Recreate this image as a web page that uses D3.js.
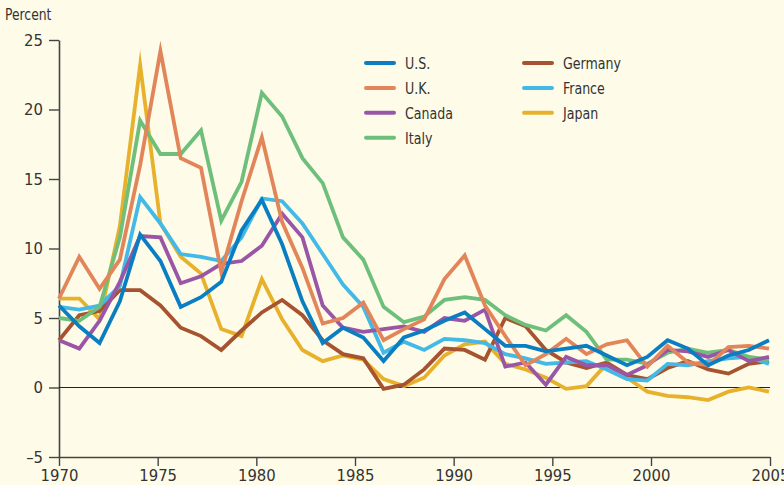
<!DOCTYPE html>
<html>
<head>
<meta charset="utf-8">
<script src="https://cdn.jsdelivr.net/npm/d3@7"></script>
<style>
  html, body { margin: 0; padding: 0; background: #fefce8; }
  svg { display: block; }
  text { font-family: "Liberation Sans Narrow", "DejaVu Sans Condensed", "Roboto", sans-serif; fill: #333; }
</style>
</head>
<body>
<div id="chart"></div>
<script>
// inflation rates, percent, 1970-2005
const years = [1970, 1971, 1972, 1973, 1974, 1975, 1976, 1977, 1978, 1979,
  1980, 1981, 1982, 1983, 1984, 1985, 1986, 1987, 1988, 1989,
  1990, 1991, 1992, 1993, 1994, 1995, 1996, 1997, 1998, 1999,
  2000, 2001, 2002, 2003, 2004, 2005];

const us = [5.9, 4.4, 3.2, 6.2, 11.0, 9.1, 5.8, 6.5, 7.6, 11.3, 13.5, 10.3, 6.2, 3.2, 4.3, 3.6, 1.9, 3.6, 4.1, 4.8,
  5.4, 4.2, 3.0, 3.0, 2.6, 2.8, 3.0, 2.3, 1.6, 2.2, 3.4, 2.8, 1.6, 2.3, 2.7, 3.4];
const uk = [6.4, 9.4, 7.1, 9.2, 16.0, 24.2, 16.5, 15.8, 8.3, 13.4, 18.0, 11.9, 8.6, 4.6, 5.0, 6.1, 3.4, 4.2, 4.9, 7.8,
  9.5, 5.9, 3.7, 1.6, 2.4, 3.5, 2.4, 3.1, 3.4, 1.5, 3.0, 1.8, 1.6, 2.9, 3.0, 2.8];
const canada = [3.4, 2.8, 4.8, 7.6, 10.9, 10.8, 7.5, 8.0, 8.9, 9.1, 10.2, 12.5, 10.8, 5.9, 4.3, 4.0, 4.2, 4.4, 4.0, 5.0,
  4.8, 5.6, 1.5, 1.8, 0.2, 2.2, 1.6, 1.6, 0.9, 1.6, 2.7, 2.6, 2.2, 2.7, 1.9, 2.2];
const italy = [5.0, 4.8, 5.8, 10.8, 19.2, 16.8, 16.8, 18.5, 12.0, 14.8, 21.2, 19.5, 16.5, 14.7, 10.8, 9.2, 5.8, 4.7, 5.1, 6.3,
  6.5, 6.3, 5.2, 4.5, 4.1, 5.2, 4.0, 2.0, 2.0, 1.7, 2.5, 2.8, 2.5, 2.7, 2.2, 2.0];
const germany = [3.4, 5.2, 5.5, 7.0, 7.0, 5.9, 4.3, 3.7, 2.7, 4.1, 5.4, 6.3, 5.2, 3.4, 2.4, 2.1, -0.1, 0.2, 1.3, 2.8,
  2.7, 2.0, 5.0, 4.4, 2.7, 1.8, 1.4, 1.8, 0.9, 0.6, 1.4, 1.9, 1.3, 1.0, 1.7, 1.9];
const france = [5.8, 5.6, 5.9, 7.3, 13.7, 11.8, 9.6, 9.4, 9.1, 10.8, 13.6, 13.4, 11.8, 9.6, 7.4, 5.8, 2.5, 3.3, 2.7, 3.5,
  3.4, 3.2, 2.4, 2.1, 1.7, 1.8, 1.9, 1.3, 0.6, 0.5, 1.7, 1.6, 1.9, 2.1, 2.2, 1.7];
const japan = [6.4, 6.4, 4.9, 11.6, 23.2, 11.8, 9.4, 8.2, 4.2, 3.7, 7.8, 4.9, 2.7, 1.9, 2.3, 2.0, 0.6, 0.1, 0.7, 2.3,
  3.1, 3.3, 1.7, 1.3, 0.7, -0.1, 0.1, 1.7, 0.7, -0.3, -0.6, -0.7, -0.9, -0.3, 0.0, -0.3];

const yTicks = [-5, 0, 5, 10, 15, 20, 25];
const xTicks = [1970, 1975, 1980, 1985, 1990, 1995, 2000, 2005];

// drawn back to front
const series = [
  { name: "Japan", values: japan, color: "#e7b12c" },
  { name: "Germany", values: germany, color: "#a6532f" },
  { name: "France", values: france, color: "#43b9e7" },
  { name: "Italy", values: italy, color: "#6dbf7b" },
  { name: "Canada", values: canada, color: "#9a56a6" },
  { name: "U.K.", values: uk, color: "#e2855a" },
  { name: "U.S.", values: us, color: "#0a7ec2" }
];

const legendLeft = ["U.S.", "U.K.", "Canada", "Italy"];
const legendRight = ["Germany", "France", "Japan"];

const width = 784, height = 485;

const svg = d3.select("#chart").append("svg")
  .attr("width", width)
  .attr("height", height);

svg.append("rect")
  .attr("width", width)
  .attr("height", height)
  .attr("fill", "#fefce8");

// data scale
const x = d3.scaleLinear()
  .domain([1970, 2005])
  .range([59, 769]);

// the printed axis is spaced a little differently from the data
const xAxisScale = d3.scaleLinear()
  .domain([1970, 2000, 2005])
  .range([59, 651, 770]);

const y = d3.scaleLinear()
  .domain([-5, 25])
  .range([457, 40]);

// y axis
const yAxis = svg.append("g")
  .attr("transform", "translate(59,0)")
  .call(d3.axisLeft(y)
    .tickValues(yTicks)
    .tickSize(10)
    .tickSizeOuter(0)
    .tickPadding(6)
    .tickFormat(d => d < 0 ? "\u2013" + Math.abs(d) : d));

// x axis
const xAxis = svg.append("g")
  .attr("transform", "translate(0,457)")
  .call(d3.axisBottom(xAxisScale)
    .tickValues(xTicks)
    .tickSize(9)
    .tickSizeOuter(0)
    .tickPadding(3)
    .tickFormat(d3.format("d")));

[yAxis, xAxis].forEach(function (g) {
  g.select(".domain").attr("stroke", "#444").attr("stroke-width", 1.6);
  g.selectAll(".tick line").attr("stroke", "#444").attr("stroke-width", 1.4);
  g.selectAll(".tick text")
    .style("font-size", "16.5px")
    .attr("fill", "#333");
});

// zero line
svg.append("line")
  .attr("x1", x(1970))
  .attr("x2", xAxisScale(2005))
  .attr("y1", y(0))
  .attr("y2", y(0))
  .attr("stroke", "#222")
  .attr("stroke-width", 1.2);

svg.append("text")
  .attr("transform", "translate(5,20) scale(0.86,1)")
  .style("font-size", "16px")
  .text("Percent");

const line = d3.line()
  .x((d, i) => x(years[i]))
  .y(d => y(d));

svg.append("g")
  .selectAll("path")
  .data(series)
  .join("path")
  .attr("fill", "none")
  .attr("stroke", d => d.color)
  .attr("stroke-width", 3.8)
  .attr("stroke-linejoin", "miter")
  .attr("stroke-miterlimit", 10)
  .attr("d", d => line(d.values));

// legend
function legendColumn(names, lx, ly) {
  const g = svg.append("g");
  names.forEach(function (name, i) {
    const s = series.find(d => d.name === name);
    const yy = ly + i * 24.9;
    g.append("line")
      .attr("x1", lx)
      .attr("x2", lx + 28)
      .attr("y1", yy)
      .attr("y2", yy)
      .attr("stroke", s.color)
      .attr("stroke-width", 4)
      .attr("stroke-linecap", "round");
    g.append("text")
      .attr("transform", "translate(" + (lx + 39) + "," + (yy + 6) + ") scale(0.85,1)")
      .style("font-size", "16.5px")
      .text(name);
  });
}

legendColumn(legendLeft, 366, 63);
legendColumn(legendRight, 524, 63);
</script>
</body>
</html>
